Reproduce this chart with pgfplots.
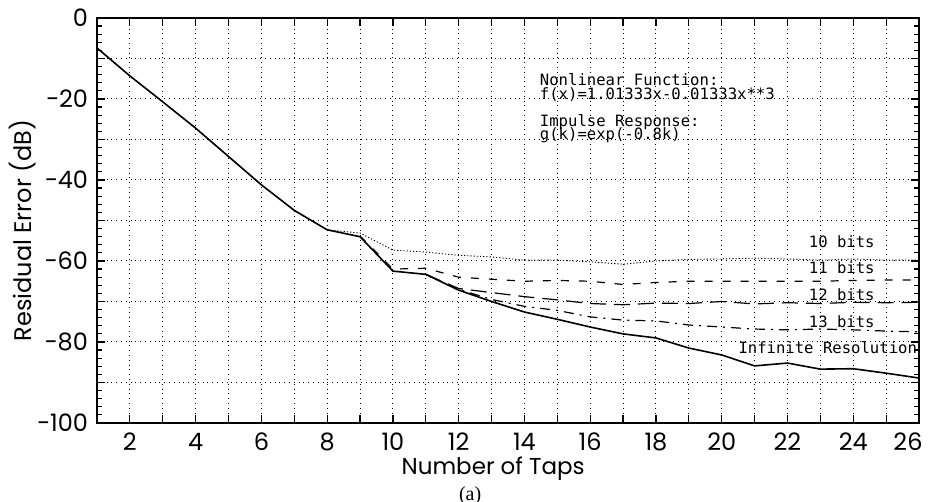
\documentclass[border=0pt]{standalone}
\usepackage{pgfplots}
\pgfplotsset{compat=1.18}
\usepackage{fontspec}
\setmainfont{Poppins}
\newfontfamily\plotter{DejaVu Sans Mono}
\newfontfamily\capfont{Liberation Serif}

\begin{document}
\begin{tikzpicture}
\begin{axis}[
    scale only axis,
    width=411pt, height=202.5pt,
    xmin=1, xmax=26,
    ymin=-100, ymax=0,
    xtick={1,...,26},
    xticklabels={,2,,4,,6,,8,,10,,12,,14,,16,,18,,20,,22,,24,,\hspace*{-11pt}26},
    ytick={-100,-90,...,0},
    yticklabels={−100,,−80,,−60,,−40,,−20,,0},
    minor y tick num=4,
    tick pos=both,
    tick align=inside,
    major tick length=4pt,
    minor tick length=2.5pt,
    every tick/.style={black, line width=0.6pt},
    grid=major,
    major grid style={black, dotted, line width=0.5pt},
    axis line style={line width=0.9pt},
    tick label style={font=\fontsize{12}{13}\selectfont},
    xticklabel style={yshift=-1.5pt},
    yticklabel style={xshift=-1pt},
    xlabel={Number of Taps},
    ylabel={Residual Error (dB)},
    xlabel style={font=\fontsize{11.5}{13}\selectfont, at={(axis description cs:0.482,-0.113)}, anchor=center},
    ylabel style={font=\fontsize{12}{14}\selectfont, at={(axis description cs:-0.091,0.475)}, anchor=center},
    clip=false,
]

% 10 bits (dotted)
\addplot[black, line width=0.45pt, dash pattern=on 0.6pt off 1pt] coordinates {
    (1,-7.4)(2,-14.3)(3,-20.7)(4,-27.2)(5,-34.2)(6,-41.2)(7,-47.5)(8,-52.3)
    (9,-53.1)(10,-57.3)(11,-57.8)(12,-58.6)(13,-59)(14,-59.8)(15,-59.8)
    (16,-60.2)(17,-60.8)(18,-60)(19,-59.6)(20,-59.5)(21,-59.3)(22,-59.5)
    (23,-59.8)(24,-59.5)(25,-59.8)(26,-59.8)
};

% 11 bits (short dash)
\addplot[black, line width=0.6pt, dash pattern=on 4pt off 5pt] coordinates {
    (9,-53.8)(10,-62)(11,-61.8)(12,-64)(13,-64.5)(14,-65)(15,-64.8)
    (16,-65)(17,-65.8)(18,-65.3)(19,-65)(20,-65)(21,-65)(22,-65)
    (23,-65)(24,-64.8)(25,-64.7)(26,-64.7)
};

% 12 bits (long dash)
\addplot[black, line width=0.6pt, dash pattern=on 8pt off 4pt] coordinates {
    (11,-63.3)(12,-66.8)(13,-67.8)(14,-68.8)(15,-69.6)(16,-70.5)(17,-70.8)
    (18,-70.4)(19,-70.5)(20,-70)(21,-70.6)(22,-70.3)(23,-70.5)(24,-70.2)
    (25,-70.3)(26,-70.2)
};

% 13 bits (dash dot)
\addplot[black, line width=0.6pt, dash pattern=on 5pt off 3pt on 1pt off 3pt] coordinates {
    (11,-63.3)(12,-67)(13,-69.5)(14,-71.2)(15,-72.2)(16,-73.8)(17,-74.6)
    (18,-74.8)(19,-75.8)(20,-76.3)(21,-76.8)(22,-77)(23,-76.8)(24,-77)
    (25,-77.3)(26,-77.5)
};

% infinite resolution (solid)
\addplot[black, line width=0.8pt] coordinates {
    (1,-7.4)(2,-14.3)(3,-20.7)(4,-27.2)(5,-34.2)(6,-41.2)(7,-47.5)(8,-52.3)
    (9,-54)(10,-62.5)(11,-63.3)(12,-67.2)(13,-70)(14,-72.6)(15,-74.4)
    (16,-76.3)(17,-78)(18,-79)(19,-81.5)(20,-83.2)(21,-85.9)(22,-85.2)
    (23,-86.7)(24,-86.6)(25,-87.7)(26,-88.9)
};

% annotations
\begin{scope}[every node/.style={font=\plotter\fontsize{7.8}{9}\selectfont, inner sep=0pt}]
\node[anchor=west] at (axis cs:14.46,-15.3) {Nonlinear Function:};
\node[anchor=west] at (axis cs:14.46,-18.8) {f(x)=1.01333x-0.01333x**3};
\node[anchor=west] at (axis cs:14.46,-25.7) {Impulse Response:};
\node[anchor=west] at (axis cs:14.46,-28.9) {g(k)=exp(-0.8k)};
\node at (axis cs:23.65,-55.2) {10 bits};
\node at (axis cs:23.65,-61.6) {11 bits};
\node at (axis cs:23.65,-68.3) {12 bits};
\node at (axis cs:23.65,-75) {13 bits};
\node[anchor=east] at (axis cs:25.95,-81.5) {Infinite Resolution};
\end{scope}

\node[font=\capfont\fontsize{10}{11}\selectfont, inner sep=1pt] at (axis description cs:0.454,-0.179) {(a)};
\end{axis}
\pgfresetboundingbox
\path[use as bounding box] (-48.5pt,-39.5pt) rectangle (415.5pt,211.5pt);
\end{tikzpicture}
\end{document}
